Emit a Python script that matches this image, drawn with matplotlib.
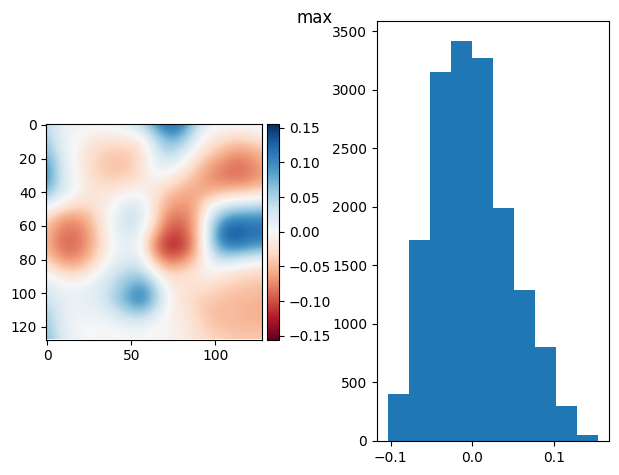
import numpy as np
import matplotlib
matplotlib.use('Agg')
import matplotlib.pyplot as plt

# Field sampled every 8 samples along each axis (rows top to bottom)
field_step = 8
field_rows = [
    [.04, .015, .01, .01, .005, .01, .02, .04, .09, .13, .11, .05, .01, .005, .005, .005, .005],
    [.05, .015, .00, -.01, -.015, -.015, -.012, -.005, .04, .08, .07, .02, -.01, -.02, -.03, -.025, -.01],
    [.07, .02, .00, -.02, -.035, -.04, -.04, -.025, .02, .05, .03, -.005, -.03, -.05, -.065, -.06, -.05],
    [.09, .03, .00, -.025, -.04, -.045, -.045, -.025, .01, .02, .00, -.03, -.06, -.075, -.085, -.08, -.06],
    [.10, .03, .005, -.02, -.035, -.04, -.035, -.02, .00, -.01, -.03, -.05, -.07, -.08, -.085, -.08, -.065],
    [.07, .025, .005, -.015, -.02, -.015, -.005, -.005, -.02, -.04, -.055, -.06, -.06, -.05, -.045, -.04, -.03],
    [.015, -.005, -.025, -.03, -.015, .00, .02, .02, -.025, -.06, -.07, -.06, -.01, .02, .03, .035, .04],
    [-.03, -.065, -.07, -.055, -.02, .01, .035, .025, -.025, -.08, -.085, -.06, .02, .08, .10, .10, .10],
    [-.05, -.08, -.085, -.07, -.025, .01, .025, .01, -.05, -.10, -.10, -.06, .03, .12, .14, .12, .12],
    [-.055, -.085, -.09, -.07, -.03, .005, .015, .00, -.08, -.12, -.115, -.065, .03, .10, .11, .10, .09],
    [-.035, -.07, -.075, -.055, -.02, .01, .02, .015, -.05, -.09, -.08, -.045, .01, .04, .03, .02, .01],
    [.00, -.025, -.035, -.02, .005, .03, .045, .045, .00, -.035, -.03, -.02, .00, -.015, -.02, -.03, -.03],
    [.02, .01, .005, .01, .025, .04, .07, .09, .05, -.01, -.02, -.02, -.025, -.035, -.04, -.045, -.045],
    [.035, .015, .01, .015, .02, .05, .085, .11, .06, .00, -.02, -.035, -.04, -.045, -.05, -.05, -.055],
    [.05, .02, .01, .01, .015, .025, .045, .055, .025, -.005, -.015, -.03, -.045, -.05, -.05, -.055, -.055],
    [.06, .02, .005, .00, .00, .005, .01, .01, .00, -.005, -.01, -.025, -.04, -.045, -.05, -.05, -.05],
    [.07, .025, .01, .00, -.005, -.005, .00, .00, -.005, -.005, -.01, -.02, -.03, -.035, -.04, -.04, -.04],
]
color_limit = 0.1555
color_ticks = [-0.15, -0.10, -0.05, 0.00, 0.05, 0.10, 0.15]
image_xticks = [0, 50, 100]
image_yticks = [0, 20, 40, 60, 80, 100, 120]

# Histogram of the field values
hist_counts = [404, 1720, 3147, 3420, 3275, 1994, 1293, 806, 302, 54]
hist_min = -0.104
hist_max = 0.155
hist_xticks = [-0.1, 0.0, 0.1]
hist_yticks = [0, 500, 1000, 1500, 2000, 2500, 3000, 3500]

W, H = 619, 475


def px_axes(fig, x0, y0, x1, y1):
    # axes from pixel corners, y measured from the top
    return fig.add_axes([x0 / W, 1 - y1 / H, (x1 - x0) / W, (y1 - y0) / H])


fig = plt.figure(figsize=(W / 100, H / 100), dpi=100)

ax_img = px_axes(fig, 46, 124, 262, 339.5)
field = np.array(field_rows)
half = field_step / 2
n = field.shape[0]
im = ax_img.imshow(field, cmap='RdBu', vmin=-color_limit, vmax=color_limit,
                   interpolation='bicubic',
                   extent=(-half, (n - 1) * field_step + half, (n - 1) * field_step + half, -half))
ax_img.set_xlim(-0.5, 127.5)
ax_img.set_ylim(127.5, -0.5)
ax_img.set_xticks(image_xticks)
ax_img.set_yticks(image_yticks)

cax = px_axes(fig, 267, 124, 279, 339.5)
cbar = fig.colorbar(im, cax=cax)
cbar.set_ticks(color_ticks)

ax_hist = px_axes(fig, 377, 20.5, 609, 441)
edges = np.linspace(hist_min, hist_max, len(hist_counts) + 1)
ax_hist.hist(edges[:-1], bins=edges, weights=hist_counts)
ax_hist.set_xticks(hist_xticks)
ax_hist.set_yticks(hist_yticks)

fig.text(314.5 / W, 1 - 18 / H, 'max', fontsize=12, ha='center', va='center')

fig.savefig('out.png', dpi=100)
